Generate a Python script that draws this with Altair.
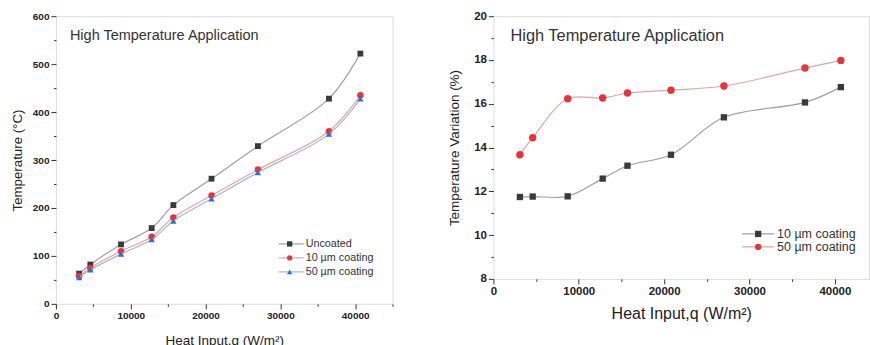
import altair as alt
import pandas as pd

# ---- data ----
heat = [3100, 4600, 8700, 12800, 15700, 20800, 27000, 36500, 40700]
uncoated = [63, 82, 124, 158, 206, 261, 329, 428, 522]
coat10 = [58, 75, 110, 140, 180, 226, 280, 360, 435]
coat50 = [55, 71, 104, 134, 173, 219, 274, 354, 428]
var10 = [11.74, 11.76, 11.77, 12.58, 13.17, 13.67, 15.38, 16.06, 16.76]
var50 = [13.67, 14.45, 16.23, 16.26, 16.49, 16.62, 16.81, 17.63, 17.98]

left_labels = ["Uncoated", "10 \u00b5m coating", "50 \u00b5m coating"]
right_labels = ["10 \u00b5m coating", "50 \u00b5m coating"]
panel_title = "High Temperature Application"

FONT = "Liberation Sans"
DARK = "#3a3a3a"
RED = "#e8333a"
BLUE = "#2d6fd2"
LINE_GRAY = "#a0a0a0"
LINE_PINK = "#dca7aa"
LINE_BLUE = "#aab5c9"


def frame(values, mod, tick_font):
    return dict(
        values=values,
        labelExpr=f"datum.value % {mod} === 0 ? format(datum.value, 'd') : ''",
        tickSize={"condition": {"test": f"datum.value % {mod} === 0", "value": 5}, "value": 2.5},
        tickColor="#333",
        domain=False,
        grid=False,
        labelFont=FONT,
        labelFontWeight="bold",
        labelFontSize=tick_font,
        labelColor="#222",
        labelPadding=2,
        labelFlush=False,
        titleFont=FONT,
        titleFontWeight="normal",
        titleColor="#222",
    )


def series(df, xdom, ydom, ycol, shape, mcolor, lcolor, xaxis, yaxis, size):
    base = alt.Chart(df)
    x = alt.X("q:Q", scale=alt.Scale(domain=xdom, nice=False, zero=False), axis=xaxis)
    y = alt.Y(f"{ycol}:Q", scale=alt.Scale(domain=ydom, nice=False, zero=False), axis=yaxis)
    line = base.mark_line(interpolate="catmull-rom", color=lcolor, strokeWidth=1.2).encode(x=x, y=y)
    pts = base.mark_point(shape=shape, filled=True, color=mcolor, size=size, opacity=1).encode(x=x, y=y)
    return [line, pts]


def legend_entry(x0, x1, xm, xt, yy, shape, mcolor, lcolor, label, fsize, size):
    d = alt.Data(values=[{"k": 1}])
    r = alt.Chart(d).mark_rule(color=lcolor, strokeWidth=1.2).encode(
        x=alt.value(x0), x2=alt.value(x1), y=alt.value(yy))
    p = alt.Chart(d).mark_point(shape=shape, filled=True, color=mcolor, size=size, opacity=1).encode(
        x=alt.value(xm), y=alt.value(yy))
    t = alt.Chart(d).mark_text(text=label, align="left", baseline="middle", font=FONT,
                               fontSize=fsize, color="#333").encode(
        x=alt.value(xt), y=alt.value(yy))
    return [r, p, t]


def title_text(x, y, fsize):
    d = alt.Data(values=[{"k": 1}])
    return alt.Chart(d).mark_text(text=panel_title, align="left", baseline="middle", font=FONT,
                                  fontSize=fsize, color="#333").encode(x=alt.value(x), y=alt.value(y))


# ---- left panel ----
dl = pd.DataFrame({"q": heat, "u": uncoated, "c10": coat10, "c50": coat50})
lx_axis = alt.Axis(title="Heat Input,q (W/m\u00b2)", titleFontSize=13.5, titlePadding=13,
                   **frame(list(range(0, 45001, 5000)), 10000, 10))
ly_axis = alt.Axis(title="Temperature (\u00b0C)", titleFontSize=13.3, titlePadding=8,
                   **frame(list(range(0, 601, 50)), 100, 10))
xd_l = [0, 45000]
yd_l = [0, 600]
layers_l = []
layers_l += series(dl, xd_l, yd_l, "u", "square", DARK, LINE_GRAY, lx_axis, ly_axis, 34)
layers_l += series(dl, xd_l, yd_l, "c10", "circle", RED, LINE_PINK, lx_axis, ly_axis, 42)
layers_l += series(dl, xd_l, yd_l, "c50", "triangle-up", BLUE, LINE_BLUE, lx_axis, ly_axis, 40)
layers_l.append(title_text(14, 20, 14.5))
for i, (lab, shp, mc, lc) in enumerate(zip(left_labels, ["square", "circle", "triangle-up"],
                                           [DARK, RED, BLUE], [LINE_GRAY, LINE_PINK, LINE_BLUE])):
    layers_l += legend_entry(223, 248, 234, 250, 228 + i * 14, shp, mc, lc, lab, 10.8, 28)
left = alt.layer(*layers_l).properties(width=337, height=288)

# ---- right panel ----
dr = pd.DataFrame({"q": heat, "v10": var10, "v50": var50})
rx_axis = alt.Axis(title="Heat Input,q (W/m\u00b2)", titleFontSize=16, titlePadding=8,
                   **frame(list(range(0, 44001, 5000)), 10000, 11.5))
ry_axis = alt.Axis(title="Temperature Variation (%)", titleFontSize=13.5, titlePadding=12,
                   **frame(list(range(8, 21, 1)), 2, 11.5))
xd_r = [0, 44000]
yd_r = [8, 20]
layers_r = []
layers_r += series(dr, xd_r, yd_r, "v10", "square", DARK, LINE_GRAY, rx_axis, ry_axis, 40)
layers_r += series(dr, xd_r, yd_r, "v50", "circle", RED, LINE_PINK, rx_axis, ry_axis, 55)
layers_r.append(title_text(17, 20, 16.4))
for i, (lab, shp, mc, lc) in enumerate(zip(right_labels, ["square", "circle"],
                                           [DARK, RED], [LINE_GRAY, LINE_PINK])):
    layers_r += legend_entry(249, 281, 265, 284, 218 + i * 13, shp, mc, lc, lab, 12.5, 40)
right = alt.layer(*layers_r).properties(width=376, height=263)

chart = alt.hconcat(left, right, spacing=53).properties(
    padding={"left": 9, "top": 9, "right": 0, "bottom": 0}
).configure_view(stroke="#333", strokeWidth=1.4).configure(font=FONT, background="white")

chart.save("out.html", embed_options={"renderer": "svg", "actions": False})
